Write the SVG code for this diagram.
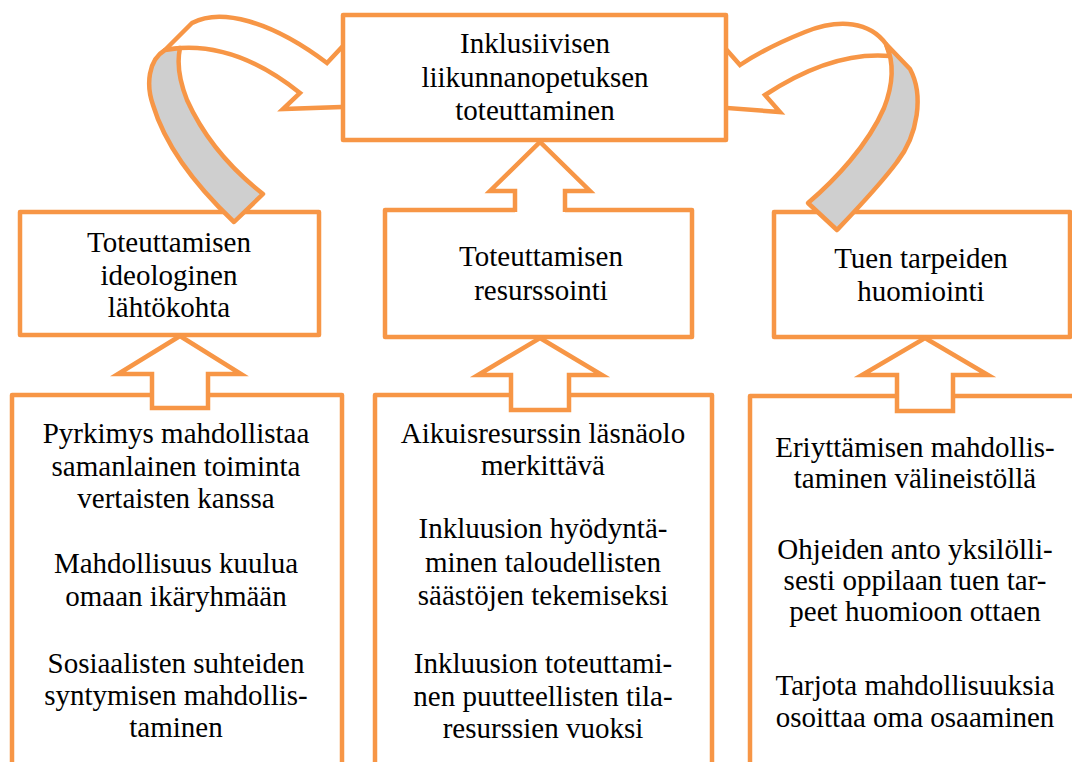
<svg xmlns="http://www.w3.org/2000/svg" width="1072" height="762" viewBox="0 0 1072 762">
<style>
.box{fill:#fff;stroke:#F79646;stroke-width:4.5;stroke-linejoin:round}
.arr{fill:#fff;stroke:#F79646;stroke-width:4.5;stroke-linejoin:miter}
.band{fill:#CFCFCF;stroke:#F79646;stroke-width:4.5;stroke-linejoin:round}
.fill{fill:#fff;stroke:none}
.open{fill:none;stroke:#F79646;stroke-width:4.5;stroke-linejoin:miter}
text{font-family:"Liberation Serif","Times New Roman",serif;font-size:29px;fill:#000;text-anchor:middle}
</style>
<rect width="1072" height="762" fill="#fff"/>
<g id="bottom-left">
<rect class="box" x="12" y="395" width="330" height="380"/>
<text x="176" y="443">Pyrkimys mahdollistaa</text>
<text x="176" y="476">samanlainen toiminta</text>
<text x="176" y="508">vertaisten kanssa</text>
<text x="176" y="573">Mahdollisuus kuulua</text>
<text x="176" y="606">omaan ikäryhmään</text>
<text x="176" y="673">Sosiaalisten suhteiden</text>
<text x="176" y="705">syntymisen mahdollis-</text>
<text x="176" y="737">taminen</text>
</g>
<g id="bottom-middle">
<rect class="box" x="375" y="395" width="337" height="380"/>
<text x="543" y="443">Aikuisresurssin läsnäolo</text>
<text x="543" y="475">merkittävä</text>
<text x="543" y="538">Inkluusion hyödyntä-</text>
<text x="543" y="572">minen taloudellisten</text>
<text x="543" y="605">säästöjen tekemiseksi</text>
<text x="543" y="673">Inkluusion toteuttami-</text>
<text x="543" y="706">nen puutteellisten tila-</text>
<text x="543" y="738">resurssien vuoksi</text>
</g>
<g id="bottom-right">
<rect class="box" x="750" y="396" width="340" height="380"/>
<text x="915" y="457">Eriyttämisen mahdollis-</text>
<text x="915" y="488">taminen välineistöllä</text>
<text x="915" y="559">Ohjeiden anto yksilölli-</text>
<text x="915" y="590">sesti oppilaan tuen tar-</text>
<text x="915" y="621">peet huomioon ottaen</text>
<text x="915" y="695">Tarjota mahdollisuuksia</text>
<text x="915" y="727">osoittaa oma osaaminen</text>
</g>
<g id="mid-left">
<rect class="box" x="20" y="212" width="299" height="123"/>
<text x="169" y="252">Toteuttamisen</text>
<text x="169" y="285">ideologinen</text>
<text x="169" y="317">lähtökohta</text>
</g>
<g id="mid-center">
<rect class="box" x="385" y="210" width="307" height="127"/>
<text x="541" y="266">Toteuttamisen</text>
<text x="541" y="300">resurssointi</text>
</g>
<g id="mid-right">
<rect class="box" x="774" y="212" width="296" height="125"/>
<text x="921" y="268">Tuen tarpeiden</text>
<text x="921" y="301">huomiointi</text>
</g>
<g id="connectors">
<path class="arr" d="M180 336 L241 374 L208 374 L208 408 L152 408 L152 374 L118 374 Z"/>
<path class="arr" d="M540 338 L602 375 L569 375 L569 410 L511 410 L511 375 L478 375 Z"/>
<path class="arr" d="M925 338 L988 375 L953 375 L953 411 L897 411 L897 375 L862 375 Z"/>
<path class="fill" d="M540 142 L590 191 L565 191 L565 213 L515 213 L515 191 L490 191 Z"/>
<path class="open" d="M515 212 L515 191 L490 191 L540 142 L590 191 L565 191 L565 212"/>
<path class="arr" d="M165 50 L192 23 C220 8 270 20 327 63 L342 47 L370 47 L370 106 L283 109 L300 93 C265 65 225 45 180 48 Z"/>
<path class="band" d="M165 50 C148 60 146 85 153 105 C165 145 195 185 234 222 L263 194 C235 172 205 140 187 100 C179 80 177 62 180 48 Z"/>
<path class="arr" d="M886 44 C870 22 840 18 805 32 C780 42 758 53 740 65 L725 48 L700 48 L700 106 L780 112 L765 95 C800 72 845 52 890 56 Z"/>
<path class="band" d="M886 44 L910 69 C924 95 918 135 897 162 C880 185 858 208 837 230 L808 203 C835 180 868 145 884 108 C893 85 894 62 886 44 Z"/>
</g>
<g id="top">
<rect class="box" x="343" y="15" width="383" height="125"/>
<text x="535" y="53">Inklusiivisen</text>
<text x="535" y="87">liikunnanopetuksen</text>
<text x="535" y="120">toteuttaminen</text>
</g>
</svg>
